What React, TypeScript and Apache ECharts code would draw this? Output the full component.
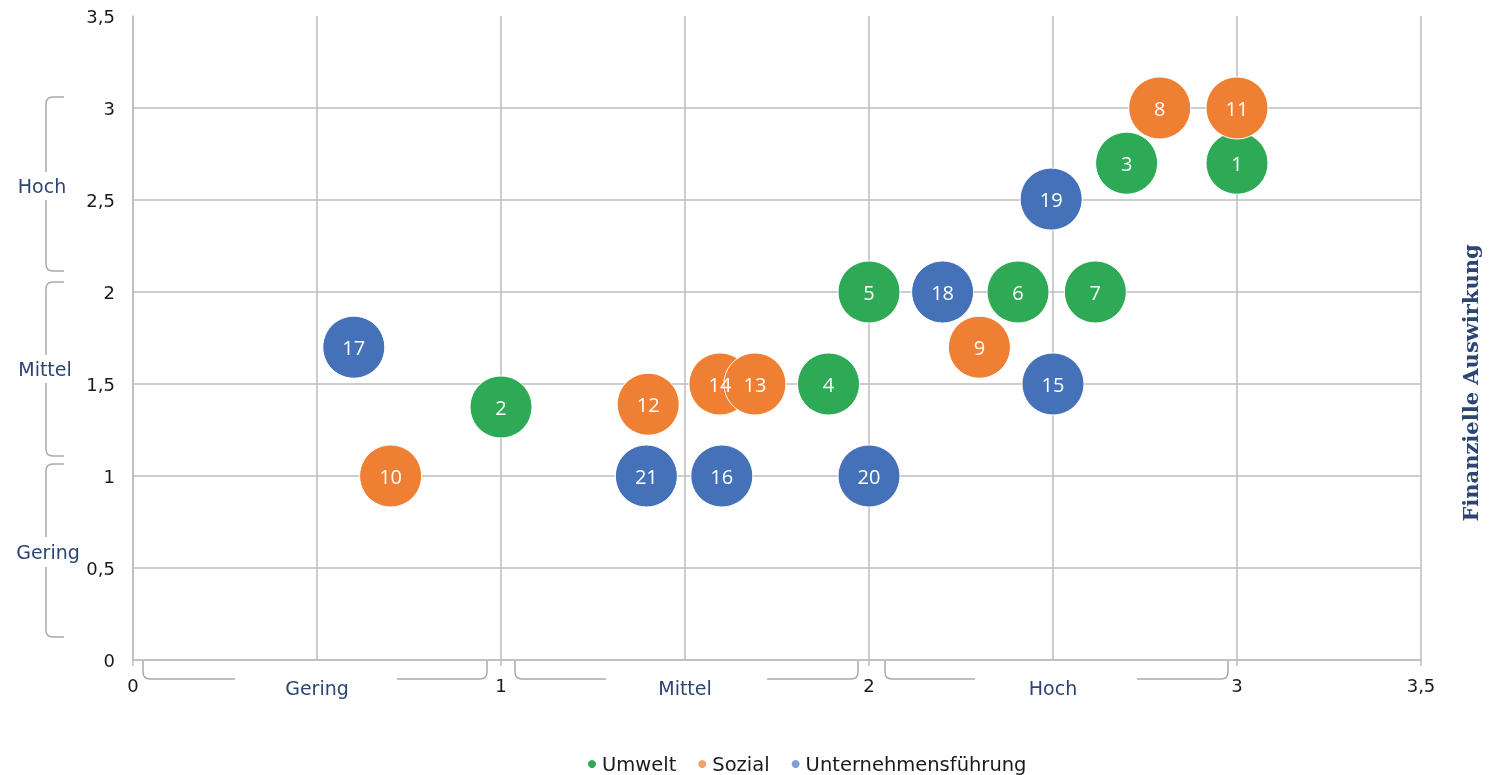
import React, { useEffect, useRef } from "react";
import * as echarts from "echarts";

// ---------- data ----------
const seriesNames = ["Umwelt", "Sozial", "Unternehmensführung"];
const seriesColors = ["#2eaa57", "#ef7f33", "#4571b8"];
const legendColors = ["#2eaa57", "#f3a06a", "#7f9fd6"];

const umweltIds = ["1", "2", "3", "4", "5", "6", "7"];
const umweltX = [3.0, 1.0, 2.7, 1.89, 2.0, 2.405, 2.615];
const umweltY = [2.7, 1.375, 2.7, 1.5, 2.0, 2.0, 2.0];

const sozialIds = ["8", "9", "10", "11", "12", "14", "13"];
const sozialX = [2.79, 2.3, 0.7, 3.0, 1.4, 1.595, 1.69];
const sozialY = [3.0, 1.7, 1.0, 3.0, 1.39, 1.5, 1.5];

const fuehrungIds = ["15", "16", "17", "18", "19", "20", "21"];
const fuehrungX = [2.5, 1.6, 0.6, 2.2, 2.495, 2.0, 1.395];
const fuehrungY = [1.5, 1.0, 1.7, 2.0, 2.505, 1.0, 1.0];

const levelLabels = ["Gering", "Mittel", "Hoch"];
const levelCenters = [0.5, 1.5, 2.5];
const rightAxisTitle = "Finanzielle Auswirkung";

// ---------- decoration shapes (brackets) ----------
const leftBrackets =
  "M64 97 L53 97 Q46 97 46 104 L46 172 M46 200 L46 264 Q46 271 53 271 L64 271 " +
  "M64 282 L53 282 Q46 282 46 289 L46 355 M46 383 L46 449 Q46 456 53 456 L64 456 " +
  "M64 464 L53 464 Q46 464 46 471 L46 537 M46 567 L46 630 Q46 637 53 637 L64 637";
const bottomBrackets =
  "M143 661 L143 672 Q143 679 150 679 L235 679 M397 679 L480 679 Q487 679 487 672 L487 661 " +
  "M515 661 L515 672 Q515 679 522 679 L606 679 M767 679 L851 679 Q858 679 858 672 L858 661 " +
  "M885 661 L885 672 Q885 679 892 679 L975 679 M1137 679 L1221 679 Q1228 679 1228 672 L1228 661";

let registered = false;
function registerShapes() {
  if (registered) return;
  registered = true;
  echarts.graphic.registerShape("bracketsLeft", echarts.graphic.extendPath(leftBrackets, {}));
  echarts.graphic.registerShape("bracketsBottom", echarts.graphic.extendPath(bottomBrackets, {}));
}

const FONT = "DejaVu Sans";
const BUBBLE_FONT = "Open Sans";
const BLUE_TEXT = "#2d4572";
const GRID = "#bdbdbd";

function toPoints(ids: string[], xs: number[], ys: number[]) {
  return ids.map((id, i) => [xs[i], ys[i], id]);
}

export default function App() {
  const ref = useRef<HTMLDivElement>(null);
  useEffect(() => {
    if (!ref.current) return;
    registerShapes();
    const chart = echarts.init(ref.current, undefined, { renderer: "svg" });
    const fmt = (v: number) => String(v).replace(".", ",");
    const datasets = [
      toPoints(umweltIds, umweltX, umweltY),
      toPoints(sozialIds, sozialX, sozialY),
      toPoints(fuehrungIds, fuehrungX, fuehrungY),
    ];
    chart.setOption({
      animation: false,
      grid: { left: 133, right: 84, top: 16, bottom: 115, containLabel: false },
      legend: {
        left: 581,
        top: 749,
        icon: "circle",
        itemWidth: 10,
        itemHeight: 10,
        itemGap: 20,
        textStyle: { fontFamily: FONT, fontSize: 19.5, color: "#1a1a1a" },
        data: seriesNames.map((n, i) => ({ name: n, itemStyle: { color: legendColors[i] } })),
      },
      xAxis: [
        {
          type: "value",
          min: 0,
          max: 3.5,
          interval: 0.5,
          axisLine: { show: true, lineStyle: { color: GRID, width: 1.5 } },
          axisTick: { show: false },
          splitLine: { show: true, lineStyle: { color: GRID, width: 1.5 } },
          axisLabel: {
            margin: 18,
            fontFamily: FONT,
            fontSize: 19,
            color: BLUE_TEXT,
            formatter: (v: number) => {
              const k = levelCenters.indexOf(v);
              return k >= 0 ? levelLabels[k] : "";
            },
          },
        },
        {
          type: "value",
          position: "bottom",
          min: 0,
          max: 3.5,
          interval: 1,
          axisLine: { show: false },
          axisTick: { show: true, length: 6, lineStyle: { color: GRID, width: 1.5 } },
          splitLine: { show: false },
          axisLabel: {
            margin: 16,
            fontFamily: FONT,
            fontSize: 18,
            color: "#1a1a1a",
            showMaxLabel: true,
            formatter: fmt,
          },
        },
      ],
      yAxis: {
        type: "value",
        min: 0,
        max: 3.5,
        interval: 0.5,
        axisLine: { show: true, lineStyle: { color: GRID, width: 1.5 } },
        axisTick: { show: false },
        splitLine: {
          show: true,
          lineStyle: {
            color: [GRID, GRID, GRID, GRID, GRID, GRID, GRID, "rgba(0,0,0,0)"],
            width: 1.5,
          },
        },
        axisLabel: {
          margin: 18,
          fontFamily: FONT,
          fontSize: 18,
          color: "#1a1a1a",
          formatter: fmt,
        },
      },
      series: seriesNames.map((name, i) => ({
        name,
        type: "scatter",
        xAxisIndex: 0,
        symbol: "circle",
        symbolSize: 62,
        data: datasets[i],
        itemStyle: { color: seriesColors[i], borderColor: "#ffffff", borderWidth: 1, opacity: 1 },
        label: {
          show: true,
          position: "inside",
          color: "#ffffff",
          fontFamily: BUBBLE_FONT,
          fontSize: 20,
          formatter: (p: any) => p.value[2],
        },
        emphasis: { disabled: true },
      })),
      graphic: [
        { type: "bracketsLeft", x: 0, y: 0, silent: true, style: { fill: "none", stroke: "#a9a9a9", lineWidth: 1.5 } },
        { type: "bracketsBottom", x: 0, y: 0, silent: true, style: { fill: "none", stroke: "#a9a9a9", lineWidth: 1.5 } },
        { type: "text", x: 42, y: 186, style: { text: levelLabels[2], fill: BLUE_TEXT, font: `19px "${FONT}"`, align: "center", verticalAlign: "middle" } },
        { type: "text", x: 45, y: 369, style: { text: levelLabels[1], fill: BLUE_TEXT, font: `19px "${FONT}"`, align: "center", verticalAlign: "middle" } },
        { type: "text", x: 48, y: 552, style: { text: levelLabels[0], fill: BLUE_TEXT, font: `19px "${FONT}"`, align: "center", verticalAlign: "middle" } },
        {
          type: "text",
          x: 1470,
          y: 383,
          rotation: Math.PI / 2,
          style: {
            text: rightAxisTitle,
            fill: BLUE_TEXT,
            font: `bold 21px "DejaVu Serif"`,
            align: "center",
            verticalAlign: "middle",
          },
        },
      ],
    });
    return () => chart.dispose();
  }, []);
  return <div ref={ref} style={{ position: "fixed", left: 0, top: 0, width: 1505, height: 775 }} />;
}
